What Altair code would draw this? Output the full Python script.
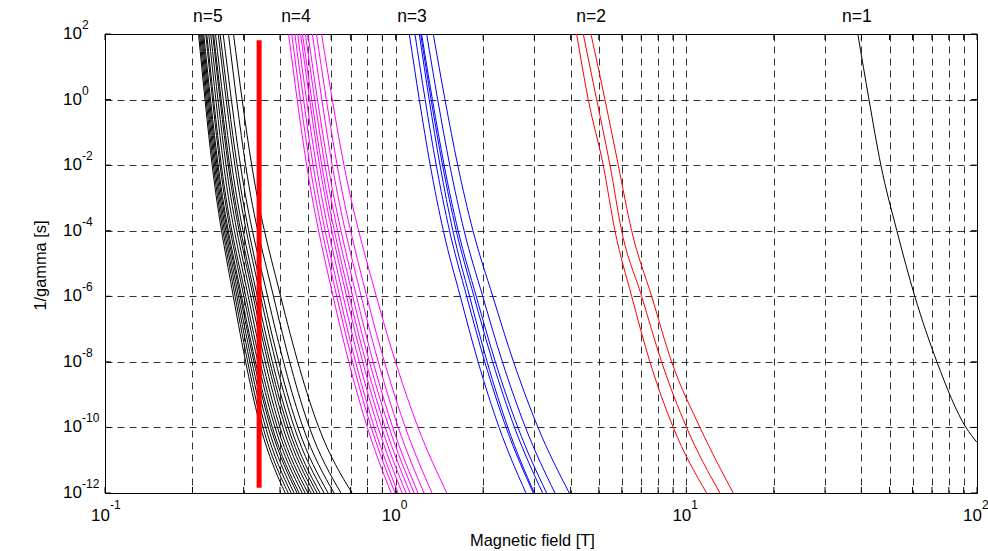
import altair as alt
import pandas as pd

FONT = "Liberation Sans"

# ---------------- data ----------------
# 1/gamma levels at which the curves were read
gamma_fine = [1e2, 1e0, 1e-2, 1e-4, 1e-6, 1e-8, 1e-10, 1e-12]
gamma_coarse = [1e2, 1e-2, 1e-6, 1e-10, 1e-12]

# n=5 (black), magnetic field [T] at gamma_coarse
n5_fields = [
    [0.2098, 0.2337, 0.2763, 0.3433, 0.4168],
    [0.2115, 0.2360, 0.2802, 0.3497, 0.4268],
    [0.2133, 0.2383, 0.2841, 0.3568, 0.4369],
    [0.2151, 0.2406, 0.2880, 0.3643, 0.4470],
    [0.2168, 0.2429, 0.2920, 0.3714, 0.4579],
    [0.2186, 0.2450, 0.2950, 0.3765, 0.4654],
    [0.2222, 0.2488, 0.3003, 0.3845, 0.4767],
    [0.2239, 0.2513, 0.3049, 0.3920, 0.4880],
    [0.2275, 0.2561, 0.3110, 0.4000, 0.4992],
    [0.2310, 0.2609, 0.3172, 0.4091, 0.5117],
    [0.2346, 0.2654, 0.3233, 0.4181, 0.5242],
    [0.2363, 0.2683, 0.3280, 0.4265, 0.5367],
    [0.2399, 0.2730, 0.3341, 0.4356, 0.5492],
    [0.2452, 0.2798, 0.3428, 0.4480, 0.5673],
    [0.2488, 0.2848, 0.3500, 0.4609, 0.5855],
    [0.2550, 0.2924, 0.3625, 0.4801, 0.6139],
    [0.2659, 0.3046, 0.3798, 0.5050, 0.6485],
    [0.2767, 0.3197, 0.4020, 0.5438, 0.7080],
]

# n=4 (magenta), at gamma_coarse
n4_fields = [
    [0.428, 0.494, 0.609, 0.799, 0.965],
    [0.439, 0.507, 0.627, 0.824, 0.995],
    [0.450, 0.520, 0.642, 0.844, 1.019],
    [0.460, 0.533, 0.660, 0.870, 1.053],
    [0.471, 0.547, 0.678, 0.895, 1.086],
    [0.478, 0.557, 0.693, 0.921, 1.121],
    [0.489, 0.571, 0.712, 0.949, 1.157],
    [0.499, 0.585, 0.733, 0.977, 1.194],
    [0.517, 0.605, 0.761, 1.021, 1.252],
    [0.534, 0.629, 0.795, 1.080, 1.334],
    [0.556, 0.664, 0.858, 1.194, 1.500],
]

# n=3 (blue), at gamma_fine
n3_fields = [
    [1.114, 1.206, 1.315, 1.459, 1.668, 1.921, 2.269, 2.807],
    [1.165, 1.263, 1.379, 1.532, 1.755, 2.026, 2.398, 2.975],
    [1.206, 1.304, 1.421, 1.573, 1.796, 2.064, 2.432, 2.998],
    [1.219, 1.324, 1.450, 1.616, 1.859, 2.156, 2.564, 3.203],
    [1.228, 1.338, 1.468, 1.640, 1.893, 2.203, 2.633, 3.306],
    [1.278, 1.395, 1.535, 1.720, 1.993, 2.329, 2.796, 3.532],
    [1.347, 1.478, 1.635, 1.845, 2.158, 2.544, 3.088, 3.956],
]

# n=2 (red), at gamma_fine
n2_fields = [
    [4.195, 4.598, 5.177, 5.681, 6.484, 7.496, 9.015, 11.74],
    [4.419, 4.914, 5.461, 5.990, 7.020, 8.220, 10.02, 13.05],
    [4.697, 5.248, 5.833, 6.484, 7.597, 8.902, 11.14, 14.50],
]

# n=1 (black), single curve
n1_fields = [38.9, 42.5, 46.7, 53.0, 61.1, 72.8, 91.6, 100.0]
n1_gamma = [1e2, 1e0, 1e-2, 1e-4, 1e-6, 1e-8, 1e-10, 3.5e-11]

# thick red marker line
marker_field = [0.339, 0.339]
marker_gamma = [65.0, 1.45e-12]

# family labels above the plot
family_names = ["n=5", "n=4", "n=3", "n=2", "n=1"]
family_label_fields = [0.226, 0.454, 1.138, 4.70, 38.6]

# axes
x_grid = [0.1, 0.2, 0.3, 0.4, 0.5, 0.6, 0.7, 0.8, 0.9,
          1, 2, 3, 4, 5, 6, 7, 8, 9,
          10, 20, 30, 40, 50, 60, 70, 80, 90, 100]
x_tick_values = [0.1, 1, 10, 100]
x_tick_exps = ["-1", "0", "1", "2"]
y_tick_values = [1e2, 1e0, 1e-2, 1e-4, 1e-6, 1e-8, 1e-10, 1e-12]
y_tick_exps = ["2", "0", "-2", "-4", "-6", "-8", "-10", "-12"]

# ---------------- build tables ----------------
def family_df(name, curves, levels):
    rows = []
    for ci, curve in enumerate(curves):
        for k, (b, g) in enumerate(zip(curve, levels)):
            rows.append({"curve": f"{name}-{ci}", "k": k, "B": b, "g": g})
    return pd.DataFrame(rows)

df5 = family_df("n5", n5_fields, gamma_coarse)
df4 = family_df("n4", n4_fields, gamma_coarse)
df3 = family_df("n3", n3_fields, gamma_fine)
df2 = family_df("n2", n2_fields, gamma_fine)
df1 = family_df("n1", [n1_fields], n1_gamma)
dfm = pd.DataFrame({"B": marker_field, "g": marker_gamma})
dflab = pd.DataFrame({"B": family_label_fields, "txt": family_names})
dfxt = pd.DataFrame({"B": x_tick_values, "base": ["10"] * 4, "exp": x_tick_exps})
dfyt = pd.DataFrame({"g": y_tick_values, "base": ["10"] * 8, "exp": y_tick_exps})
dfxg = pd.DataFrame({"B": x_grid})

PLOT_W = 872
PLOT_H = 459
TICK = 6

xscale = alt.Scale(type="log", domain=[0.1, 100], nice=False)
yscale = alt.Scale(type="log", domain=[1e-12, 1e2], nice=False)

x_axis = alt.Axis(values=x_grid, grid=True, gridColor="#000000", gridDash=[7, 5],
                  gridWidth=1, gridOpacity=0.8, labels=False, ticks=False, domain=False,
                  title="Magnetic field [T]", titleFont=FONT, titleFontSize=16.4,
                  titleFontWeight="normal", titleColor="#000000",
                  titleX=427, titleY=47, titleAlign="center", titleBaseline="middle")
y_axis = alt.Axis(values=y_tick_values, grid=True, gridColor="#000000", gridDash=[7, 5],
                  gridWidth=1, gridOpacity=0.8, labels=False, ticks=False, domain=False,
                  title="1/gamma [s]", titleFont=FONT, titleFontSize=16.4,
                  titleFontWeight="normal", titleColor="#000000",
                  titleX=-65, titleY=231, titleAlign="center", titleBaseline="middle")

def X():
    return alt.X("B:Q", scale=xscale, axis=x_axis)

def Y():
    return alt.Y("g:Q", scale=yscale, axis=y_axis)

def lines(df, color):
    return alt.Chart(df).mark_line(color=color, strokeWidth=1, clip=True,
                                   interpolate="monotone").encode(
        x=X(), y=Y(), detail="curve:N", order="k:Q")

l5 = lines(df5, "#000000")
l4 = lines(df4, "#ff00ff")
l3 = lines(df3, "#0000ff")
l2 = lines(df2, "#ff0000")
l1 = lines(df1, "#000000")

marker = alt.Chart(dfm).mark_line(color="#ff0000", strokeWidth=5, strokeCap="butt").encode(
    x=X(), y=Y())

labels = alt.Chart(dflab).mark_text(font=FONT, fontSize=17.5, color="#000000",
                                    align="center", baseline="middle", dy=-17).encode(
    x=X(), y=alt.value(0), text="txt:N")

# inward tick marks (MATLAB style) on all four sides
xt_bottom = alt.Chart(dfxg).mark_rule(color="#000000", strokeWidth=1).encode(
    x=X(), y=alt.value(PLOT_H), y2=alt.value(PLOT_H - TICK))
xt_top = alt.Chart(dfxg).mark_rule(color="#000000", strokeWidth=1).encode(
    x=X(), y=alt.value(0), y2=alt.value(TICK))
yt_left = alt.Chart(dfyt).mark_rule(color="#000000", strokeWidth=1).encode(
    y=Y(), x=alt.value(0), x2=alt.value(TICK))
yt_right = alt.Chart(dfyt).mark_rule(color="#000000", strokeWidth=1).encode(
    y=Y(), x=alt.value(PLOT_W), x2=alt.value(PLOT_W - TICK))

xt_base = alt.Chart(dfxt).mark_text(font=FONT, fontSize=17, color="#000000",
                                    align="right", baseline="middle", dx=5, dy=23).encode(
    x=X(), y=alt.value(PLOT_H), text="base:N")
xt_exp = alt.Chart(dfxt).mark_text(font=FONT, fontSize=12, color="#000000",
                                   align="left", baseline="middle", dx=5, dy=12).encode(
    x=X(), y=alt.value(PLOT_H), text="exp:N")

yt_base = alt.Chart(dfyt).mark_text(font=FONT, fontSize=17, color="#000000",
                                    align="right", baseline="middle", dx=-23, dy=0).encode(
    x=alt.value(0), y=Y(), text="base:N")
yt_exp = alt.Chart(dfyt).mark_text(font=FONT, fontSize=12, color="#000000",
                                   align="left", baseline="middle", dx=-23, dy=-9).encode(
    x=alt.value(0), y=Y(), text="exp:N")

chart = alt.layer(xt_bottom, xt_top, yt_left, yt_right,
                  l5, l4, l3, l2, l1, marker, labels,
                  xt_base, xt_exp, yt_base, yt_exp).properties(
    width=PLOT_W, height=PLOT_H,
    autosize=alt.AutoSizeParams(type="none"),
    padding={"left": 105, "top": 34, "right": 11, "bottom": 58},
    background="#ffffff",
).configure_view(stroke="#000000", strokeWidth=1)

chart.save("out.html", embed_options={"renderer": "svg", "actions": False})
